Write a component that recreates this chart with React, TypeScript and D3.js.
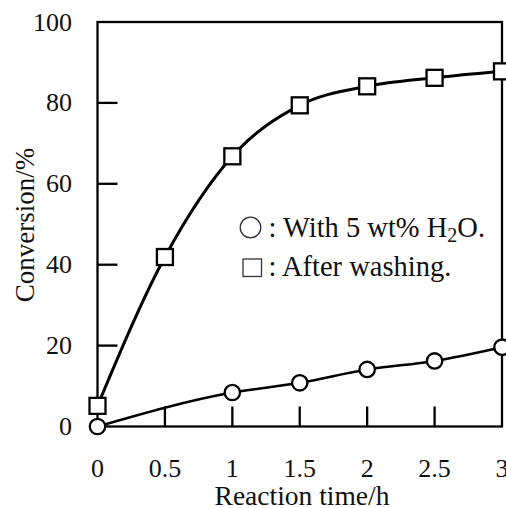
import React from "react";
import * as d3 from "d3";

const times = [0, 0.5, 1, 1.5, 2, 2.5, 3];
const withWater = [0, null, 8.4, 10.8, 14.1, 16.2, 19.6];
const afterWashing = [5.1, 41.9, 66.8, 79.4, 84.1, 86.2, 87.8];
const xTicks = [0, 0.5, 1, 1.5, 2, 2.5, 3];
const yTicks = [0, 20, 40, 60, 80, 100];
const xLabel = "Reaction time/h";
const yLabel = "Conversion/%";

const W = 506;
const H = 508;
const FONT = "'Liberation Serif', 'Times New Roman', serif";

export default function App() {
  const x = d3.scaleLinear().domain([0, 3]).range([97.5, 502]);
  const y = d3.scaleLinear().domain([0, 100]).range([426.5, 22]);

  const circlePts = times
    .map((t, i) => [t, withWater[i]] as [number, number | null])
    .filter((d) => d[1] !== null) as [number, number][];
  const squarePts = times.map((t, i) => [t, afterWashing[i]] as [number, number]);

  const line = d3
    .line<[number, number]>()
    .x((d) => x(d[0]))
    .y((d) => y(d[1]))
    .curve(d3.curveMonotoneX);

  const [x0, x1] = x.range();
  const [y0, y1] = y.range();
  const sq = 16;

  return (
    <svg
      width={W}
      height={H}
      style={{ position: "absolute", left: 0, top: 0, background: "#fff" }}
    >
      <rect x={0} y={0} width={W} height={H} fill="#fff" />
      {/* frame */}
      <rect
        x={x0}
        y={y1}
        width={x1 - x0}
        height={y0 - y1}
        fill="none"
        stroke="#000"
        strokeWidth={2.3}
      />
      {/* y ticks */}
      {yTicks.map((t) => (
        <g key={"y" + t}>
          {t > 0 && t < 100 && (
            <line x1={x0} x2={x0 + 20} y1={y(t)} y2={y(t)} stroke="#000" strokeWidth={2.3} />
          )}
          <text
            x={72}
            y={y(t)}
            textAnchor="end"
            dominantBaseline="central"
            fontFamily={FONT}
            fontSize={26}
            fill="#111"
          >
            {t}
          </text>
        </g>
      ))}
      {/* x ticks */}
      {xTicks.map((t) => (
        <g key={"x" + t}>
          {t > 0 && t < 3 && (
            <line x1={x(t)} x2={x(t)} y1={y0} y2={y0 - 20} stroke="#000" strokeWidth={2.3} />
          )}
          <text
            x={x(t)}
            y={477}
            textAnchor="middle"
            fontFamily={FONT}
            fontSize={26}
            fill="#111"
          >
            {t}
          </text>
        </g>
      ))}
      <text
        x={302}
        y={505}
        textAnchor="middle"
        fontFamily={FONT}
        fontSize={27.5}
        fill="#111"
      >
        {xLabel}
      </text>
      <text
        transform={`translate(34, 225) rotate(-90)`}
        textAnchor="middle"
        fontFamily={FONT}
        fontSize={27}
        fill="#111"
      >
        {yLabel}
      </text>
      {/* lines */}
      <path d={line(squarePts) || ""} fill="none" stroke="#000" strokeWidth={3} />
      <path d={line(circlePts) || ""} fill="none" stroke="#000" strokeWidth={2.5} />
      {/* markers */}
      {squarePts.map((d, i) => (
        <rect
          key={"s" + i}
          x={x(d[0]) - sq / 2}
          y={y(d[1]) - sq / 2}
          width={sq}
          height={sq}
          fill="#fff"
          stroke="#000"
          strokeWidth={2.3}
        />
      ))}
      {circlePts.map((d, i) => (
        <circle
          key={"c" + i}
          cx={x(d[0])}
          cy={y(d[1])}
          r={7.7}
          fill="#fff"
          stroke="#000"
          strokeWidth={2.3}
        />
      ))}
      {/* legend */}
      <circle cx={250.5} cy={227.5} r={10.3} fill="none" stroke="#333" strokeWidth={1.3} />
      <text x={268.5} y={236.5} fontFamily={FONT} fontSize={28.5} fill="#111">
        : With 5 wt% H<tspan dy={5} fontSize={20}>2</tspan>
        <tspan dy={-5}>O.</tspan>
      </text>
      <rect x={243} y={259} width={18.5} height={17.5} fill="none" stroke="#333" strokeWidth={1.3} />
      <text x={268.5} y={276} fontFamily={FONT} fontSize={28.5} fill="#111">
        : After washing.
      </text>
    </svg>
  );
}
